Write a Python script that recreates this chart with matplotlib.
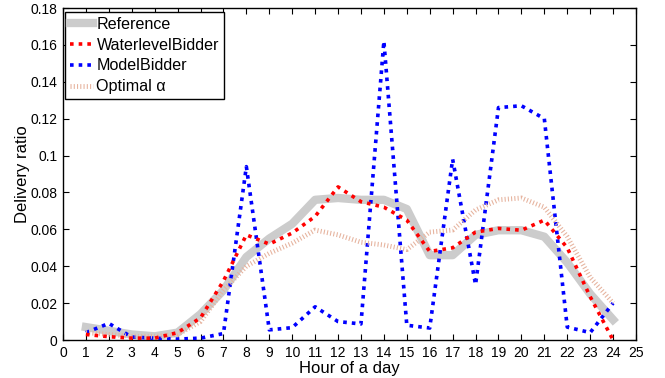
import matplotlib
matplotlib.use("Agg")
import matplotlib.pyplot as plt
from matplotlib.lines import Line2D

plt.rcParams['font.family'] = ['Liberation Sans', 'DejaVu Sans']

hours = list(range(1, 25))
reference = [0.007, 0.005, 0.003, 0.002, 0.004, 0.014, 0.027, 0.045, 0.055, 0.063,
             0.076, 0.077, 0.076, 0.076, 0.071, 0.046, 0.046, 0.057, 0.0595, 0.0595,
             0.056, 0.042, 0.025, 0.011]
waterlevel = [0.003, 0.0018, 0.001, 0.001, 0.004, 0.012, 0.032, 0.057, 0.052, 0.058,
              0.067, 0.083, 0.075, 0.072, 0.065, 0.048, 0.050, 0.0585, 0.0605, 0.0595,
              0.065, 0.050, 0.0235, 0.0]
model = [0.004, 0.009, 0.0016, 0.001, 0.0005, 0.001, 0.0035, 0.094, 0.0055, 0.0067,
         0.018, 0.010, 0.0087, 0.162, 0.008, 0.0065, 0.098, 0.030, 0.126, 0.127,
         0.120, 0.007, 0.004, 0.020]
optimal = [0.004, 0.003, 0.002, 0.002, 0.003, 0.010, 0.027, 0.040, 0.047, 0.0525,
           0.0596, 0.057, 0.053, 0.0515, 0.049, 0.0585, 0.0596, 0.0705, 0.076, 0.077,
           0.072, 0.056, 0.034, 0.020]

xticks = list(range(0, 26))
yticks = [0, 0.02, 0.04, 0.06, 0.08, 0.1, 0.12, 0.14, 0.16, 0.18]
yticklabels = ['0', '0.02', '0.04', '0.06', '0.08', '0.1', '0.12', '0.14', '0.16', '0.18']
labels = ['Reference', 'WaterlevelBidder', 'ModelBidder', 'Optimal α']

gray = (0.8, 0.8, 0.8)
brown = (0.9, 0.7, 0.62)
dot = (0, (1, 1.4))
fine = (0, (0.22, 0.45))

fig = plt.figure(figsize=(6.65, 3.78), dpi=100)
ax = fig.add_axes([63 / 665, 38 / 378, 573 / 665, 332 / 378])

ax.plot(hours, reference, color=gray, lw=6, zorder=2)
ax.plot(hours, waterlevel, color='red', lw=2.6, linestyle=dot,
        dash_capstyle='butt', zorder=4)
ax.plot(hours, model, color=(0.72, 0.72, 1.0), lw=2.6, linestyle=(1.7, (0.25, 2.15)),
        dash_capstyle='butt', zorder=3)
ax.plot(hours, model, color='blue', lw=2.6, linestyle=dot,
        dash_capstyle='butt', zorder=3)
ax.plot(hours, optimal, color=brown, lw=3.5, linestyle=fine,
        dash_capstyle='butt', zorder=3)

ax.set_xlim(0, 25)
ax.set_ylim(0, 0.18)
ax.set_xticks(xticks)
ax.set_xticklabels([str(t) for t in xticks])
ax.set_yticks(yticks)
ax.set_yticklabels(yticklabels)
ax.tick_params(direction='in', top=True, right=True, length=4, width=0.8,
               labelsize=10, pad=4)
for s in ax.spines.values():
    s.set_linewidth(1.0)

ax.set_xlabel('Hour of a day', fontsize=12)
ax.set_ylabel('Delivery ratio', fontsize=12)
ax.xaxis.set_label_coords(0.5, -0.062)
ax.yaxis.set_label_coords(-0.057, 0.5)

handles = [
    Line2D([], [], color=gray, lw=6),
    Line2D([], [], color='red', lw=2.6, linestyle=dot),
    Line2D([], [], color='blue', lw=2.6, linestyle=dot),
    Line2D([], [], color=brown, lw=3.5, linestyle=fine),
]
leg = ax.legend(handles, labels, loc='upper left', bbox_to_anchor=(0.0035, 0.988),
                borderaxespad=0, fontsize=11.6, handlelength=1.45, handletextpad=0.2,
                labelspacing=0.36, borderpad=0.3, fancybox=False, framealpha=1,
                edgecolor='black')
leg.get_frame().set_linewidth(1.0)

fig.savefig('out.png', dpi=100)
